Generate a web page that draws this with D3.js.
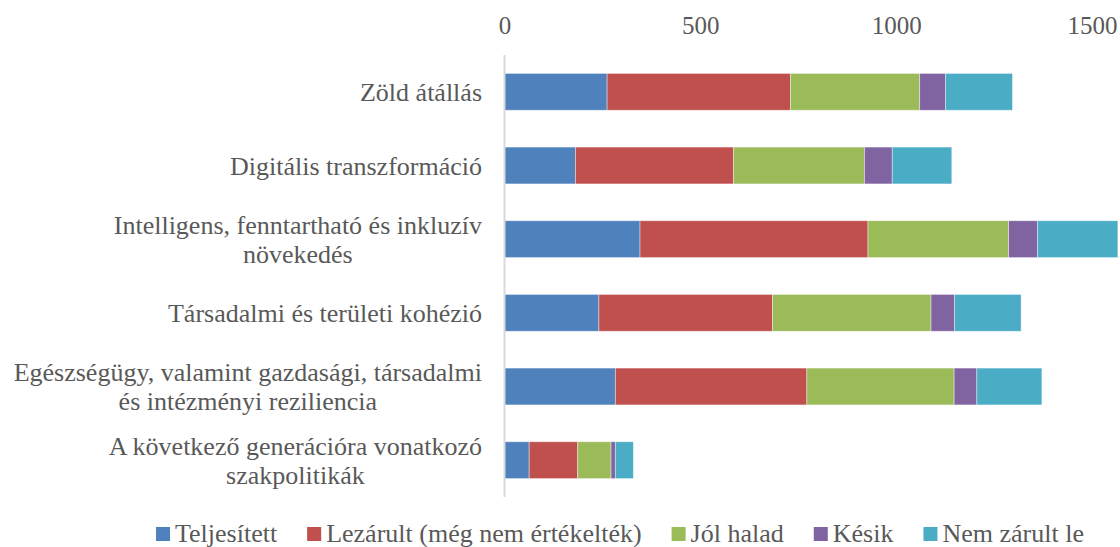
<!DOCTYPE html>
<html>
<head>
<meta charset="utf-8">
<script src="https://cdn.jsdelivr.net/npm/d3@7"></script>
<style>
  body { margin: 0; background: #fff; }
</style>
</head>
<body>
<div id="chart"></div>
<script>
// categories (each one a list of lines)
const categories = [
  ["Zöld átállás"],
  ["Digitális transzformáció"],
  ["Intelligens, fenntartható és inkluzív", "növekedés"],
  ["Társadalmi és területi kohézió"],
  ["Egészségügy, valamint gazdasági, társadalmi", "és intézményi reziliencia"],
  ["A következő generációra vonatkozó", "szakpolitikák"]
];

const seriesNames = ["Teljesített", "Lezárult (még nem értékelték)", "Jól halad", "Késik", "Nem zárult le"];

const teljesitett = [262, 181, 346, 241, 283, 63];
const lezarult    = [468, 404, 582, 443, 489, 124];
const jolHalad    = [330, 334, 359, 405, 376, 85];
const kesik       = [66, 71, 74, 60, 58, 11];
const nemZarult   = [171, 152, 205, 170, 166, 46];

const tickValues = [0, 500, 1000, 1500];

const colors = ["#4f81bd", "#c0504d", "#9bbb59", "#8064a2", "#4bacc6"];

const width = 1120, height = 547;
const tickSize = 25;
const labelSize = 26;
const serif = "'Liberation Serif', 'Times New Roman', serif";
const textColor = "#595959";

const svg = d3.select("#chart").append("svg")
  .attr("width", width)
  .attr("height", height);

// build rows for the stack
const seriesValues = [teljesitett, lezarult, jolHalad, kesik, nemZarult];
const rows = categories.map((c, i) => {
  const r = { key: i };
  seriesNames.forEach((s, j) => { r[s] = seriesValues[j][i]; });
  return r;
});

const x = d3.scaleLinear()
  .domain([0, 1500])
  .range([504.5, 1092]);

const y = d3.scaleBand()
  .domain(categories.map((c, i) => i))
  .range([55, 497])
  .paddingInner(0.5)
  .paddingOuter(0.25);

const color = d3.scaleOrdinal().domain(seriesNames).range(colors);

// top axis labels
const xAxis = d3.axisTop(x)
  .tickValues(tickValues)
  .tickFormat(d3.format("d"))
  .tickSize(0)
  .tickPadding(0);
const axG = svg.append("g")
  .attr("transform", "translate(0,34)")
  .call(xAxis);
axG.select(".domain").remove();
axG.selectAll("text")
  .style("font-size", tickSize + "px")
  .style("font-family", serif)
  .style("fill", textColor);

// bars
const stacked = d3.stack().keys(seriesNames)(rows);
svg.append("g")
  .selectAll("g")
  .data(stacked)
  .enter().append("g")
  .attr("fill", d => color(d.key))
  .selectAll("rect")
  .data(d => d)
  .enter().append("rect")
  .attr("x", d => x(d[0]))
  .attr("width", d => x(d[1]) - x(d[0]))
  .attr("y", (d, i) => y(i))
  .attr("height", y.bandwidth())
  .attr("stroke", "#ffffff")
  .attr("stroke-opacity", 0.5)
  .attr("stroke-width", 0.8);

// vertical axis line
svg.append("line")
  .attr("x1", x(0)).attr("x2", x(0))
  .attr("y1", 55).attr("y2", 497)
  .attr("stroke", "#d9d9d9")
  .attr("stroke-width", 2);

// category labels: block right-aligned, lines centered inside the block
const labelRight = 482;
const lineGap = 29;
categories.forEach((lines, i) => {
  const g = svg.append("g");
  const texts = lines.map(l => g.append("text")
    .attr("text-anchor", "middle")
    .style("font-size", labelSize + "px")
    .style("font-family", serif)
    .style("fill", textColor)
    .attr("dy", "0.35em")
    .text(l));
  const maxW = d3.max(texts, t => t.node().getComputedTextLength());
  const cx = labelRight - maxW / 2;
  const cy = y(i) + y.bandwidth() / 2;
  texts.forEach((t, k) => {
    t.attr("x", cx)
     .attr("y", cy + (k - (lines.length - 1) / 2) * lineGap);
  });
});

// legend
const legend = svg.append("g").attr("transform", "translate(156,533)");
let lx = 0;
seriesNames.forEach((s, i) => {
  legend.append("rect")
    .attr("x", lx).attr("y", -6)
    .attr("width", 14).attr("height", 14)
    .attr("fill", color(s));
  const t = legend.append("text")
    .attr("x", lx + 19)
    .attr("dy", "0.35em")
    .style("font-size", labelSize + "px")
    .style("font-family", serif)
    .style("fill", textColor)
    .text(s);
  lx += 19 + t.node().getComputedTextLength() + 30;
});
</script>
</body>
</html>
